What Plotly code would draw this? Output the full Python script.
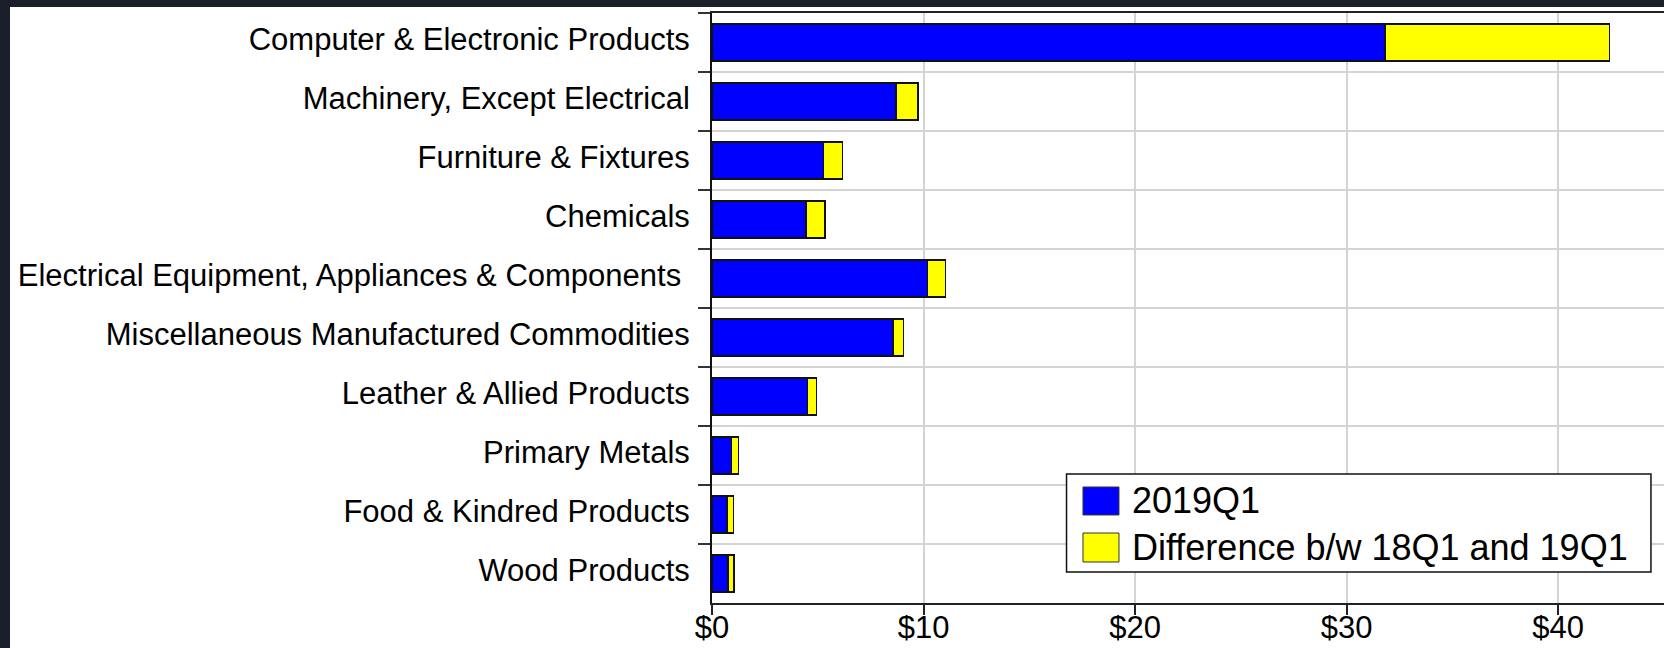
import plotly.graph_objects as go

# Categories, listed top to bottom
categories = [
    "Computer & Electronic Products",
    "Machinery, Except Electrical",
    "Furniture & Fixtures",
    "Chemicals",
    "Electrical Equipment, Appliances & Components ",
    "Miscellaneous Manufactured Commodities",
    "Leather & Allied Products",
    "Primary Metals",
    "Food & Kindred Products",
    "Wood Products",
]

# Values in dollars
value_2019q1 = [31.82, 8.70, 5.28, 4.45, 10.18, 8.55, 4.52, 0.91, 0.70, 0.75]
difference = [10.60, 1.04, 0.90, 0.90, 0.85, 0.49, 0.41, 0.35, 0.32, 0.30]

series_names = ["2019Q1", "Difference b/w 18Q1 and 19Q1"]
series_colors = ["#0000ff", "#ffff00"]

x_ticks = [0, 10, 20, 30, 40]
x_tick_labels = ["$0", "$10", "$20", "$30", "$40"]

FONT = "Liberation Sans, Arial, sans-serif"

fig = go.Figure()
for name, vals, color in zip(series_names, [value_2019q1, difference], series_colors):
    fig.add_trace(go.Bar(
        y=categories,
        x=vals,
        name=name,
        orientation="h",
        marker=dict(color=color, line=dict(color="#111111", width=1.5)),
        showlegend=False,
    ))

fig.update_layout(
    width=1664,
    height=648,
    barmode="stack",
    bargap=0.37,
    paper_bgcolor="#1b1e2b",
    plot_bgcolor="white",
    margin=dict(l=712, r=0, t=13, b=45),
    font=dict(family=FONT, color="black"),
)

fig.update_xaxes(
    range=[0, 45],
    tickvals=x_ticks,
    ticktext=x_tick_labels,
    tickfont=dict(size=31, family=FONT, color="black"),
    ticklabelstandoff=-14,
    automargin=False,
    showgrid=True,
    gridcolor="#d4d4d4",
    gridwidth=1.5,
    showline=True,
    linecolor="#222222",
    linewidth=2,
    mirror=True,
    ticks="outside",
    ticklen=10,
    tickcolor="#222222",
    tickwidth=1.5,
    zeroline=False,
)

fig.update_yaxes(
    categoryorder="array",
    categoryarray=categories,
    autorange="reversed",
    tickson="boundaries",
    tickfont=dict(size=31, family=FONT, color="black"),
    ticklabelstandoff=14,
    ticklabelshift=3,
    automargin=False,
    showgrid=True,
    gridcolor="#d4d4d4",
    gridwidth=1.5,
    showline=True,
    linecolor="#111111",
    linewidth=2,
    ticks="outside",
    ticklen=12,
    tickcolor="#333333",
    tickwidth=2,
)

# White chart card behind the plot, leaving a dark frame on the top and left
fig.add_shape(
    type="rect", xref="paper", yref="paper",
    x0=(10 - 712) / 952, x1=1.01, y0=-0.1, y1=1 + 6 / 590,
    fillcolor="white", line=dict(width=0), layer="below",
)

# Legend box drawn in paper coordinates
fig.add_shape(
    type="rect", xref="paper", yref="paper",
    x0=0.3724, x1=0.9863, y0=0.0525, y1=0.2186,
    fillcolor="white", line=dict(color="#111111", width=1.5), layer="above",
)
legend_rows = [(0.1729, 0.1966, 0.1492), (0.0939, 0.1186, 0.0695)]
for (yc, ytop, ybot), name, color in zip(legend_rows, series_names, series_colors):
    fig.add_shape(
        type="rect", xref="paper", yref="paper",
        x0=0.3897, x1=0.4275, y0=ybot, y1=ytop,
        fillcolor=color, line=dict(color="#333333", width=1), layer="above",
    )
    fig.add_annotation(
        xref="paper", yref="paper", x=0.4391, y=yc,
        text=name, showarrow=False, xanchor="left", yanchor="middle",
        font=dict(size=36, family=FONT, color="black"),
    )

fig.write_html("out.html")
